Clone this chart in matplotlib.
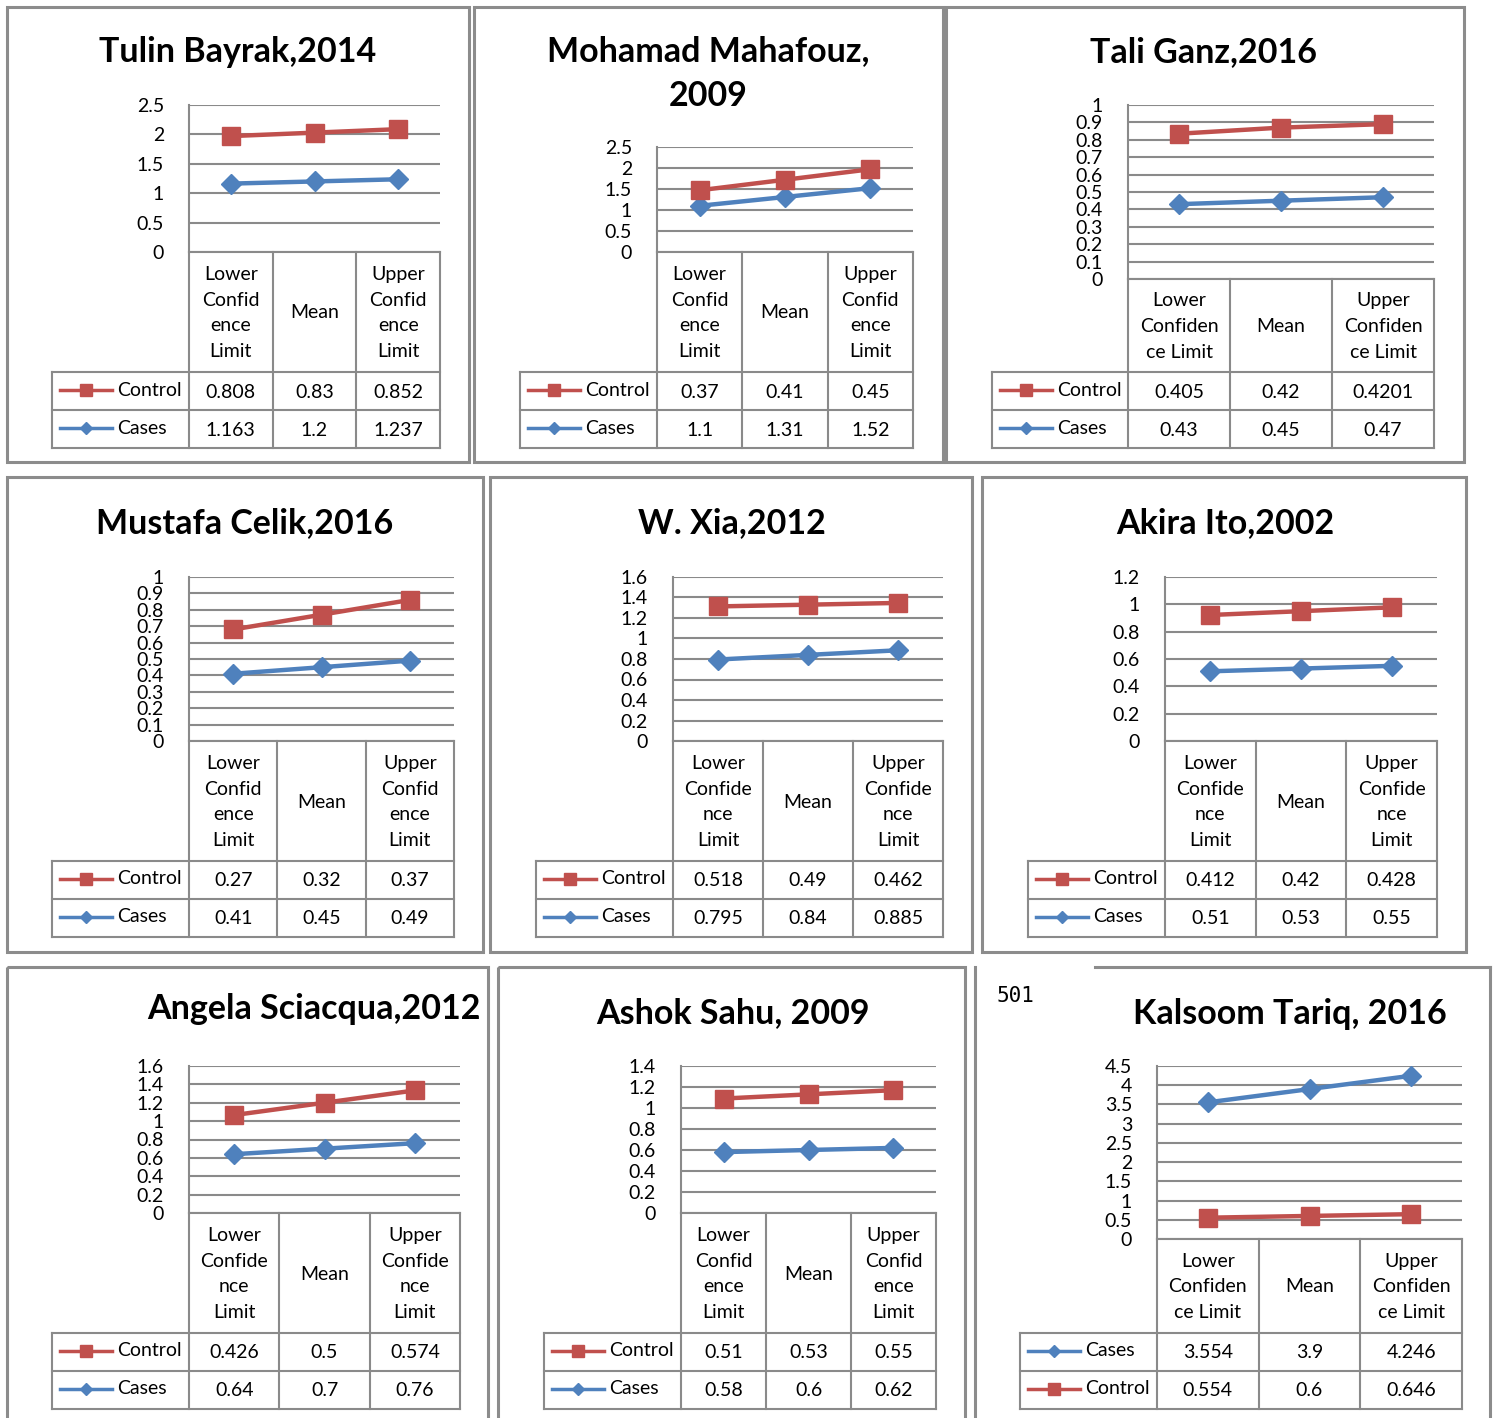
import matplotlib
matplotlib.use("Agg")
import matplotlib.pyplot as plt
from matplotlib.lines import Line2D
from matplotlib.patches import Rectangle
from matplotlib.transforms import Affine2D
from matplotlib.ticker import MultipleLocator, FuncFormatter

plt.rcParams['font.family'] = ['Lato', 'DejaVu Sans']

RED = "#C0504D"
BLUE = "#4F81BD"
GRID = "#8A8A8A"
BORDER = "#8C8C8C"

# one entry per study
titles = ["Tulin Bayrak,2014", "Mohamad Mahafouz,\n2009", "Tali Ganz,2016",
          "Mustafa Celik,2016", "W. Xia,2012", "Akira Ito,2002",
          "Angela Sciacqua,2012", "Ashok Sahu, 2009", "Kalsoom Tariq, 2016"]

control = [[0.808, 0.83, 0.852],
           [0.37, 0.41, 0.45],
           [0.405, 0.42, 0.4201],
           [0.27, 0.32, 0.37],
           [0.518, 0.49, 0.462],
           [0.412, 0.42, 0.428],
           [0.426, 0.5, 0.574],
           [0.51, 0.53, 0.55],
           [0.554, 0.6, 0.646]]

cases = [[1.163, 1.2, 1.237],
         [1.1, 1.31, 1.52],
         [0.43, 0.45, 0.47],
         [0.41, 0.45, 0.49],
         [0.795, 0.84, 0.885],
         [0.51, 0.53, 0.55],
         [0.64, 0.7, 0.76],
         [0.58, 0.6, 0.62],
         [3.554, 3.9, 4.246]]

# control series is stacked on top of cases, except in the last chart
stacked = [True, True, True, True, True, True, True, True, False]
cases_first = [False, False, False, False, False, False, False, False, True]

y_max = [2.5, 2.5, 1.0, 1.0, 1.6, 1.2, 1.6, 1.4, 4.5]
y_step = [0.5, 0.5, 0.1, 0.1, 0.2, 0.2, 0.2, 0.2, 0.5]

h4 = ["Lower\nConfid\nence\nLimit", "Mean", "Upper\nConfid\nence\nLimit"]
h3 = ["Lower\nConfiden\nce Limit", "Mean", "Upper\nConfiden\nce Limit"]
h4b = ["Lower\nConfide\nnce\nLimit", "Mean", "Upper\nConfide\nnce\nLimit"]
headers = [h4, h4, h3, h4, h4b, h4b, h4b, h4, h3]

# layout in pixels: panel box, title centre, plot area (l, t, r, b),
# bottom of header row, left edge of legend column
boxes = [(7, 7, 469, 462), (474, 7, 943, 462), (946, 7, 1464, 462),
         (7, 477, 483, 952), (490, 477, 972, 952), (982, 477, 1466, 952),
         (7, 967, 488, 1430), (498, 967, 965, 1430), (975, 967, 1490, 1430)]
title_xy = [(238, 52), (708, 74), (1204, 52),
            (245, 523), (732, 523), (1225, 523),
            (314, 1009), (733, 1013), (1290, 1014)]
plots = [(189, 105, 440, 252), (657, 147, 913, 252), (1128, 105, 1434, 279),
         (189, 577, 454, 741), (673, 577, 943, 741), (1165, 577, 1437, 741),
         (189, 1066, 460, 1213), (681, 1066, 936, 1213), (1157, 1066, 1462, 1239)]
header_bottom = [372, 372, 372, 861, 861, 861, 1333, 1333, 1333]
legend_left = [52, 520, 992, 52, 536, 1028, 52, 544, 1020]
ROW_H = 38

W, H = 1493, 1418
fig = plt.figure(figsize=(W / 100, H / 100), dpi=100)
fig.patch.set_facecolor("white")
T = Affine2D().scale(1 / W, -1 / H).translate(0, 1) + fig.transFigure


def hline(x0, x1, y, color=GRID, lw=1.5):
    fig.add_artist(Line2D([x0, x1], [y, y], transform=T, color=color, lw=lw))


def vline(x, y0, y1, color=GRID, lw=1.5):
    fig.add_artist(Line2D([x, x], [y0, y1], transform=T, color=color, lw=lw))


def draw_panel(i):
    x0, y0, x1, y1 = boxes[i]
    if i == 8:
        hline(1095, x1, y0, BORDER, 2.2)
        vline(x0, y0, y1, BORDER, 2.2)
        vline(x1, y0, y1, BORDER, 2.2)
        fig.text(997, 996, "501", transform=T, family="DejaVu Sans Mono",
                 fontsize=15, va="center", ha="left")
    else:
        fig.add_artist(Rectangle((x0, y0), x1 - x0, y1 - y0, transform=T,
                                 fill=False, ec=BORDER, lw=2.2))

    tx, ty = title_xy[i]
    fig.text(tx, ty, titles[i], transform=T, ha="center", va="center",
             fontsize=24.5, weight="bold", linespacing=1.5)

    l, t, r, b = plots[i]
    ax = fig.add_axes([l / W, 1 - b / H, (r - l) / W, (b - t) / H])
    xs = [0, 1, 2]
    ax.set_xlim(-0.5, 2.5)
    ax.set_ylim(0, y_max[i])
    ax.yaxis.set_major_locator(MultipleLocator(y_step[i]))
    ax.yaxis.set_major_formatter(FuncFormatter(lambda v, _: f"{v:g}"))
    ax.grid(axis="y", color=GRID, lw=1.5)
    ax.set_axisbelow(True)
    for s in ["top", "right", "bottom"]:
        ax.spines[s].set_visible(False)
    ax.spines["left"].set_color(GRID)
    ax.spines["left"].set_linewidth(1.5)
    ax.tick_params(axis="y", length=0, pad=18, labelsize=14)
    ax.set_xticks([])

    ctrl_line = control[i]
    if stacked[i]:
        ctrl_line = [c + k for c, k in zip(control[i], cases[i])]
    ax.plot(xs, cases[i], color=BLUE, lw=3.2, marker="D", ms=10.5, zorder=3, clip_on=False)
    ax.plot(xs, ctrl_line, color=RED, lw=3.2, marker="s", ms=13.5, zorder=3, clip_on=False)

    # data table under the plot
    hb = header_bottom[i]
    lx = legend_left[i]
    bottom = hb + 2 * ROW_H
    cw = (r - l) / 3
    edges = [l + k * cw for k in range(4)]
    for e in edges:
        vline(e, b, bottom)
    vline(lx, hb, bottom)
    hline(l, r, b)
    for y in (hb, hb + ROW_H, bottom):
        hline(lx, r, y)

    for k, lab in enumerate(headers[i]):
        fig.text(edges[k] + cw / 2, (b + hb) / 2 + 1, lab, transform=T, ha="center",
                 va="center", fontsize=14, linespacing=1.62)

    rows = [("Control", control[i], RED, "s", 8), ("Cases", cases[i], BLUE, "D", 6)]
    if cases_first[i]:
        rows = rows[::-1]
    for j, (name, vals, color, mk, ms) in enumerate(rows):
        yc = hb + ROW_H * j + ROW_H / 2
        fig.add_artist(Line2D([lx + 8, lx + 60], [yc - 1, yc - 1], transform=T, color=color, lw=2.5))
        fig.add_artist(Line2D([lx + 34], [yc - 1], transform=T, color=color, marker=mk, ms=ms, lw=0))
        fig.text(lx + 65, yc - 1, name, transform=T, ha="left", va="center", fontsize=14)
        for k, v in enumerate(vals):
            fig.text(edges[k] + cw / 2, yc + 1, f"{v:g}", transform=T, ha="center",
                     va="center", fontsize=14)


for i in range(9):
    draw_panel(i)

fig.savefig("out.png", dpi=100, facecolor="white")
